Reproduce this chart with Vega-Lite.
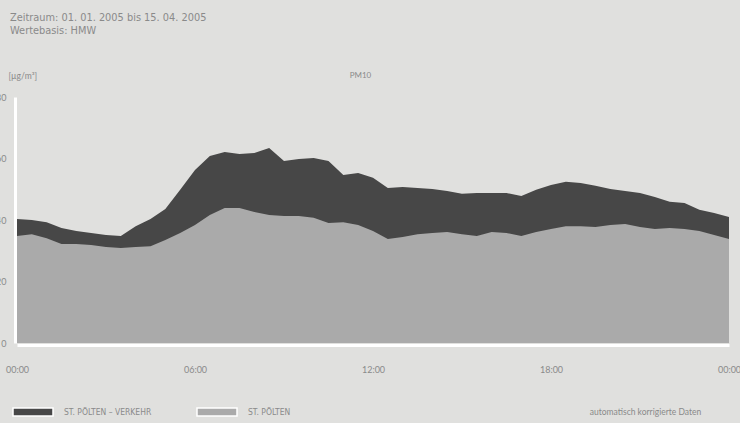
{
  "$schema": "https://vega.github.io/schema/vega-lite/v6.json",
  "autosize": {"type": "none"},
  "width": 712,
  "height": 246,
  "padding": {"left": 17, "top": 97, "right": 11, "bottom": 80},
  "background": "#e0e0de",
  "config": {
    "view": {"stroke": null},
    "font": "Lato",
    "axis": {"labelColor": "#8a8a8a", "titleColor": "#8a8a8a", "labelFontSize": 9, "titleFontSize": 8.5, "titleFontWeight": "normal", "grid": false, "ticks": false}
  },
  "title": {
    "text": ["Zeitraum: 01. 01. 2005 bis 15. 04. 2005", "Wertebasis: HMW"],
    "anchor": "start",
    "frame": "group",
    "dx": -7,
    "offset": 35,
    "font": "DejaVu Sans",
    "fontSize": 9.8,
    "fontWeight": "normal",
    "color": "#8a8a8a",
    "lineHeight": 13
  },
  "datasets": {
    "pm": [
      {"t":0,"s":"ST. PÖLTEN – VERKEHR","v":40.3},{"t":0.5,"s":"ST. PÖLTEN – VERKEHR","v":40.0},{"t":1,"s":"ST. PÖLTEN – VERKEHR","v":39.3},{"t":1.5,"s":"ST. PÖLTEN – VERKEHR","v":37.4},{"t":2,"s":"ST. PÖLTEN – VERKEHR","v":36.4},{"t":2.5,"s":"ST. PÖLTEN – VERKEHR","v":35.8},{"t":3,"s":"ST. PÖLTEN – VERKEHR","v":35.1},{"t":3.5,"s":"ST. PÖLTEN – VERKEHR","v":34.8},{"t":4,"s":"ST. PÖLTEN – VERKEHR","v":38.0},{"t":4.5,"s":"ST. PÖLTEN – VERKEHR","v":40.3},{"t":5,"s":"ST. PÖLTEN – VERKEHR","v":43.6},{"t":5.5,"s":"ST. PÖLTEN – VERKEHR","v":49.8},{"t":6,"s":"ST. PÖLTEN – VERKEHR","v":56.3},{"t":6.5,"s":"ST. PÖLTEN – VERKEHR","v":60.8},{"t":7,"s":"ST. PÖLTEN – VERKEHR","v":62.1},{"t":7.5,"s":"ST. PÖLTEN – VERKEHR","v":61.5},{"t":8,"s":"ST. PÖLTEN – VERKEHR","v":61.8},{"t":8.5,"s":"ST. PÖLTEN – VERKEHR","v":63.4},{"t":9,"s":"ST. PÖLTEN – VERKEHR","v":59.2},{"t":9.5,"s":"ST. PÖLTEN – VERKEHR","v":59.8},{"t":10,"s":"ST. PÖLTEN – VERKEHR","v":60.2},{"t":10.5,"s":"ST. PÖLTEN – VERKEHR","v":59.2},{"t":11,"s":"ST. PÖLTEN – VERKEHR","v":54.6},{"t":11.5,"s":"ST. PÖLTEN – VERKEHR","v":55.3},{"t":12,"s":"ST. PÖLTEN – VERKEHR","v":53.7},{"t":12.5,"s":"ST. PÖLTEN – VERKEHR","v":50.4},{"t":13,"s":"ST. PÖLTEN – VERKEHR","v":50.7},{"t":13.5,"s":"ST. PÖLTEN – VERKEHR","v":50.4},{"t":14,"s":"ST. PÖLTEN – VERKEHR","v":50.1},{"t":14.5,"s":"ST. PÖLTEN – VERKEHR","v":49.4},{"t":15,"s":"ST. PÖLTEN – VERKEHR","v":48.5},{"t":15.5,"s":"ST. PÖLTEN – VERKEHR","v":48.8},{"t":16,"s":"ST. PÖLTEN – VERKEHR","v":48.8},{"t":16.5,"s":"ST. PÖLTEN – VERKEHR","v":48.8},{"t":17,"s":"ST. PÖLTEN – VERKEHR","v":47.8},{"t":17.5,"s":"ST. PÖLTEN – VERKEHR","v":49.8},{"t":18,"s":"ST. PÖLTEN – VERKEHR","v":51.4},{"t":18.5,"s":"ST. PÖLTEN – VERKEHR","v":52.4},{"t":19,"s":"ST. PÖLTEN – VERKEHR","v":52.0},{"t":19.5,"s":"ST. PÖLTEN – VERKEHR","v":51.1},{"t":20,"s":"ST. PÖLTEN – VERKEHR","v":50.1},{"t":20.5,"s":"ST. PÖLTEN – VERKEHR","v":49.4},{"t":21,"s":"ST. PÖLTEN – VERKEHR","v":48.8},{"t":21.5,"s":"ST. PÖLTEN – VERKEHR","v":47.5},{"t":22,"s":"ST. PÖLTEN – VERKEHR","v":45.9},{"t":22.5,"s":"ST. PÖLTEN – VERKEHR","v":45.5},{"t":23,"s":"ST. PÖLTEN – VERKEHR","v":43.3},{"t":23.5,"s":"ST. PÖLTEN – VERKEHR","v":42.3},{"t":24,"s":"ST. PÖLTEN – VERKEHR","v":41.0},
      {"t":0,"s":"ST. PÖLTEN","v":34.8},{"t":0.5,"s":"ST. PÖLTEN","v":35.4},{"t":1,"s":"ST. PÖLTEN","v":34.1},{"t":1.5,"s":"ST. PÖLTEN","v":32.2},{"t":2,"s":"ST. PÖLTEN","v":32.2},{"t":2.5,"s":"ST. PÖLTEN","v":31.9},{"t":3,"s":"ST. PÖLTEN","v":31.2},{"t":3.5,"s":"ST. PÖLTEN","v":30.9},{"t":4,"s":"ST. PÖLTEN","v":31.2},{"t":4.5,"s":"ST. PÖLTEN","v":31.5},{"t":5,"s":"ST. PÖLTEN","v":33.5},{"t":5.5,"s":"ST. PÖLTEN","v":35.8},{"t":6,"s":"ST. PÖLTEN","v":38.4},{"t":6.5,"s":"ST. PÖLTEN","v":41.6},{"t":7,"s":"ST. PÖLTEN","v":43.9},{"t":7.5,"s":"ST. PÖLTEN","v":43.9},{"t":8,"s":"ST. PÖLTEN","v":42.6},{"t":8.5,"s":"ST. PÖLTEN","v":41.6},{"t":9,"s":"ST. PÖLTEN","v":41.3},{"t":9.5,"s":"ST. PÖLTEN","v":41.3},{"t":10,"s":"ST. PÖLTEN","v":40.7},{"t":10.5,"s":"ST. PÖLTEN","v":39.0},{"t":11,"s":"ST. PÖLTEN","v":39.3},{"t":11.5,"s":"ST. PÖLTEN","v":38.4},{"t":12,"s":"ST. PÖLTEN","v":36.4},{"t":12.5,"s":"ST. PÖLTEN","v":33.8},{"t":13,"s":"ST. PÖLTEN","v":34.5},{"t":13.5,"s":"ST. PÖLTEN","v":35.4},{"t":14,"s":"ST. PÖLTEN","v":35.8},{"t":14.5,"s":"ST. PÖLTEN","v":36.1},{"t":15,"s":"ST. PÖLTEN","v":35.4},{"t":15.5,"s":"ST. PÖLTEN","v":34.8},{"t":16,"s":"ST. PÖLTEN","v":36.1},{"t":16.5,"s":"ST. PÖLTEN","v":35.8},{"t":17,"s":"ST. PÖLTEN","v":34.8},{"t":17.5,"s":"ST. PÖLTEN","v":36.1},{"t":18,"s":"ST. PÖLTEN","v":37.1},{"t":18.5,"s":"ST. PÖLTEN","v":38.0},{"t":19,"s":"ST. PÖLTEN","v":38.0},{"t":19.5,"s":"ST. PÖLTEN","v":37.7},{"t":20,"s":"ST. PÖLTEN","v":38.4},{"t":20.5,"s":"ST. PÖLTEN","v":38.7},{"t":21,"s":"ST. PÖLTEN","v":37.7},{"t":21.5,"s":"ST. PÖLTEN","v":37.1},{"t":22,"s":"ST. PÖLTEN","v":37.4},{"t":22.5,"s":"ST. PÖLTEN","v":37.1},{"t":23,"s":"ST. PÖLTEN","v":36.4},{"t":23.5,"s":"ST. PÖLTEN","v":35.1},{"t":24,"s":"ST. PÖLTEN","v":33.8}
    ]
  },
  "data": {"name": "pm"},
  "resolve": {"axis": {"x": "independent"}},
  "layer": [
    {
      "transform": [{"filter": "datum.s === 'ST. PÖLTEN – VERKEHR'"}],
      "mark": {"type": "area", "interpolate": "linear"},
      "encoding": {
        "x": {"field": "t", "type": "quantitative", "scale": {"domain": [0, 24], "nice": false},
          "axis": {"orient": "bottom", "values": [0, 6, 12, 18, 24],
            "labelExpr": "datum.value == 24 ? '00:00' : (datum.value < 10 ? '0' : '') + datum.value + ':00'",
            "domainColor": "#ffffff", "domainWidth": 3, "offset": 2, "labelPadding": 20,
            "labelFlush": false,
            "title": "automatisch korrigierte Daten", "titleX": 628, "titleY": 66, "titleAlign": "center", "titleBaseline": "middle", "titleFontSize": 8.5}},
        "y": {"field": "v", "type": "quantitative", "stack": null, "scale": {"domain": [0, 80], "nice": false},
          "axis": {"values": [0, 20, 40, 60, 80], "domainColor": "#ffffff", "domainWidth": 3, "offset": 2, "labelPadding": 9,
            "title": "[µg/m³]", "titleAngle": 0, "titleX": -7, "titleY": -22, "titleAlign": "left", "titleBaseline": "middle"}},
        "color": {"field": "s", "type": "nominal",
          "scale": {"domain": ["ST. PÖLTEN – VERKEHR", "ST. PÖLTEN"], "range": ["#474747", "#aaaaaa"]},
          "legend": {"orient": "none", "legendX": -5, "legendY": 294, "direction": "horizontal", "title": null,
            "symbolType": "M-1,-0.2H1V0.2H-1Z", "symbolSize": 1600, "symbolStrokeColor": "#ffffff", "symbolStrokeWidth": 1.5,
            "symbolOpacity": 1, "labelFont": "DejaVu Sans Condensed", "labelFontSize": 8.5, "labelColor": "#8a8a8a",
            "labelOffset": 10, "columnPadding": 42}}
      }
    },
    {
      "transform": [{"filter": "datum.s === 'ST. PÖLTEN'"}],
      "mark": {"type": "area", "interpolate": "linear"},
      "encoding": {
        "x": {"field": "t", "type": "quantitative",
          "axis": {"orient": "top", "labels": false, "domain": false, "title": "PM10", "titleX": 343, "titleY": -22, "titleAlign": "center", "titleBaseline": "middle", "titleFontSize": 8}},
        "y": {"field": "v", "type": "quantitative", "stack": null},
        "color": {"field": "s", "type": "nominal"}
      }
    }
  ]
}
